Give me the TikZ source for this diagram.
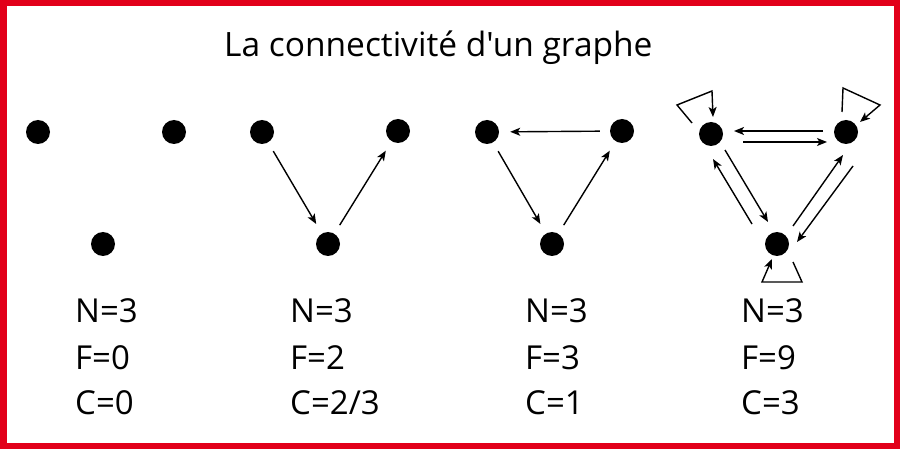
\documentclass[tikz,border=0pt]{standalone}
\usepackage{fontspec}
\setmainfont{Open Sans}
\newfontfamily\osans{Open Sans}
\usetikzlibrary{arrows.meta}
\definecolor{frame}{HTML}{E2001A}
\tikzset{
  dot/.style={circle,fill=black,minimum size=24pt,inner sep=0pt},
  arr/.style={line width=1.4pt,-{Stealth[length=10pt,width=8pt,inset=2.5pt]},shorten <=10pt,shorten >=11pt},
  parr/.style={line width=1.4pt,-{Stealth[length=10pt,width=8pt,inset=2.5pt]}},
  lab/.style={anchor=base west,inner sep=0pt,font=\osans\fontsize{33}{33}\selectfont},
  ttl/.style={anchor=base west,inner sep=0pt,font=\osans\fontsize{33.5}{33.5}\selectfont}
}
\begin{document}
\begin{tikzpicture}[x=1pt,y=-1pt]
\useasboundingbox (0,0) rectangle (900,449);
\fill[white] (0,0) rectangle (900,449);
\draw[frame,line width=6.5pt] (3.25,3.25) rectangle (896.75,445.75);
\node[ttl] (title) at (224,57) {La connectivité d'un graphe};
% graph 1
\node[dot] (a1) at (38,132) {};
\node[dot] (b1) at (174,132) {};
\node[dot] (c1) at (103,244) {};
% graph 2
\node[dot] (a2) at (262,132) {};
\node[dot] (b2) at (398,131) {};
\node[dot] (c2) at (328,244) {};
\draw[arr] (a2) -- (c2);
\draw[arr] (c2) -- (b2);
% graph 3
\node[dot] (a3) at (487,132) {};
\node[dot] (b3) at (622,131) {};
\node[dot] (c3) at (552,244) {};
\draw[arr] (b3) -- (a3);
\draw[arr] (a3) -- (c3);
\draw[arr] (c3) -- (b3);
% graph 4
\node[dot] (a4) at (711,134) {};
\node[dot] (b4) at (846,132) {};
\node[dot] (c4) at (777,244) {};
\draw[parr] ([shift={(-23,-1)}]b4.center) -- ([shift={(23,-3)}]a4.center);
\draw[parr] ([shift={(32,8)}]a4.center) -- ([shift={(-19,10)}]b4.center);
\draw[parr] ([shift={(14,16)}]a4.center) -- ([shift={(-9,-22)}]c4.center);
\draw[parr] ([shift={(-25,-20)}]c4.center) -- ([shift={(2,25)}]a4.center);
\draw[parr] ([shift={(16,-18)}]c4.center) -- ([shift={(-3,23)}]b4.center);
\draw[parr] ([shift={(7,34)}]b4.center) -- ([shift={(20,-2)}]c4.center);
\draw[parr] ([shift={(-19,-11)}]a4.center) -- (677,105) -- (712,91) -- ([shift={(2,-17)}]a4.center);
\draw[parr] ([shift={(-4,-20)}]b4.center) -- (843,88) -- (880,105) -- ([shift={(14,-10)}]b4.center);
\draw[parr] ([shift={(16,18)}]c4.center) -- (802,282) -- (762,282) -- ([shift={(-5,15)}]c4.center);
% labels
\node[lab] (n1) at (75,323) {N=3};
\node[lab] (f1) at (75,369) {F=0};
\node[lab] (k1) at (75,414) {C=0};
\node[lab] (n2) at (290,323) {N=3};
\node[lab] (f2) at (290,369) {F=2};
\node[lab] (k2) at (290,414) {C=2/3};
\node[lab] (n3) at (525,323) {N=3};
\node[lab] (f3) at (525,369) {F=3};
\node[lab] (k3) at (525,414) {C=1};
\node[lab] (n4) at (741,323) {N=3};
\node[lab] (f4) at (741,369) {F=9};
\node[lab] (k4) at (741,414) {C=3};
\end{tikzpicture}
\end{document}
